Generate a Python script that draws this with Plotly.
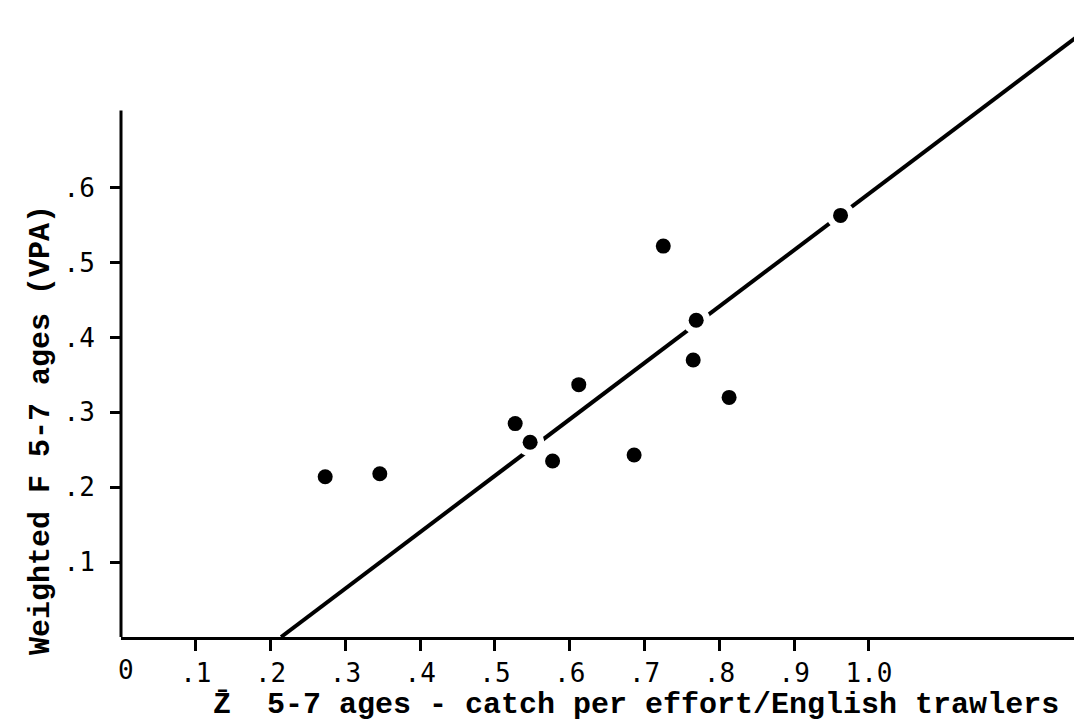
import plotly.graph_objects as go

# ---- data ----
z_catch = [0.273, 0.346, 0.527, 0.547, 0.577, 0.612, 0.686, 0.725, 0.765, 0.769, 0.813, 0.962]
f_vpa = [0.214, 0.218, 0.285, 0.260, 0.235, 0.337, 0.243, 0.522, 0.370, 0.423, 0.320, 0.563]

fit_x = [0.214, 1.30]
fit_y = [0.0, 0.818]

x_tick_vals = [0.1, 0.2, 0.3, 0.4, 0.5, 0.6, 0.7, 0.8, 0.9, 1.0]
x_tick_text = [".1", ".2", ".3", ".4", ".5", ".6", ".7", ".8", ".9", "1.0"]
y_tick_vals = [0.1, 0.2, 0.3, 0.4, 0.5, 0.6]
y_tick_text = [".1", ".2", ".3", ".4", ".5", ".6"]

x_title = "Z\u0304  5-7 ages - catch per effort/English trawlers"
y_title = "Weighted F 5-7 ages (VPA)"

x_range = [0, 1.2955]
y_range = [0, 0.84]
y_axis_top = 0.703

TITLE_FONT = dict(family="Liberation Mono, Courier New, monospace", size=30, color="black", weight="bold")
TICK_FONT = dict(family="DejaVu Sans Mono, monospace", size=26, color="black")

fig = go.Figure()

fig.add_trace(go.Scatter(
    x=fit_x, y=fit_y, mode="lines",
    line=dict(color="black", width=4),
    hoverinfo="skip", showlegend=False,
))
# white halo so the fitted line breaks around the dots, as in the drawing
fig.add_trace(go.Scatter(
    x=z_catch, y=f_vpa, mode="markers",
    marker=dict(color="white", size=28, line=dict(width=0)),
    hoverinfo="skip", showlegend=False, cliponaxis=False,
))
fig.add_trace(go.Scatter(
    x=z_catch, y=f_vpa, mode="markers",
    marker=dict(color="black", size=15, line=dict(width=0)),
    showlegend=False, cliponaxis=False,
))

fig.update_layout(
    width=1082, height=724,
    margin=dict(l=113, r=0, t=0, b=95),
    paper_bgcolor="white", plot_bgcolor="white",
    showlegend=False,
    xaxis=dict(
        range=x_range, showgrid=False, zeroline=False,
        showline=True, linecolor="black", linewidth=3,
        ticks="outside", ticklen=11, tickwidth=3, tickcolor="black",
        tickvals=x_tick_vals, ticktext=x_tick_text, tickfont=TICK_FONT,
    ),
    yaxis=dict(
        range=y_range, showgrid=False, zeroline=False,
        showline=False,
        ticks="outside", ticklen=10, tickwidth=3, tickcolor="black",
        tickvals=y_tick_vals, ticktext=y_tick_text, tickfont=TICK_FONT,
        ticklabelstandoff=10,
    ),
    shapes=[dict(
        type="line", xref="paper", yref="paper",
        x0=0, x1=0, y0=0, y1=y_axis_top / y_range[1],
        line=dict(color="black", width=3),
    )],
    annotations=[
        dict(text="0", x=0, y=0, xref="x", yref="y", showarrow=False,
             xanchor="center", yanchor="top", xshift=5, yshift=-16, font=TICK_FONT),
        dict(text=x_title, x=(628 - 113) / 969, y=1 - 697 / 629, xref="paper", yref="paper",
             showarrow=False, xanchor="center", yanchor="middle", font=TITLE_FONT),
        dict(text=y_title, x=(33 - 113) / 969, y=1 - 422 / 629, xref="paper", yref="paper",
             showarrow=False, xanchor="center", yanchor="middle", textangle=-90, font=TITLE_FONT),
    ],
)

fig.write_html("out.html", config={"displayModeBar": False})
